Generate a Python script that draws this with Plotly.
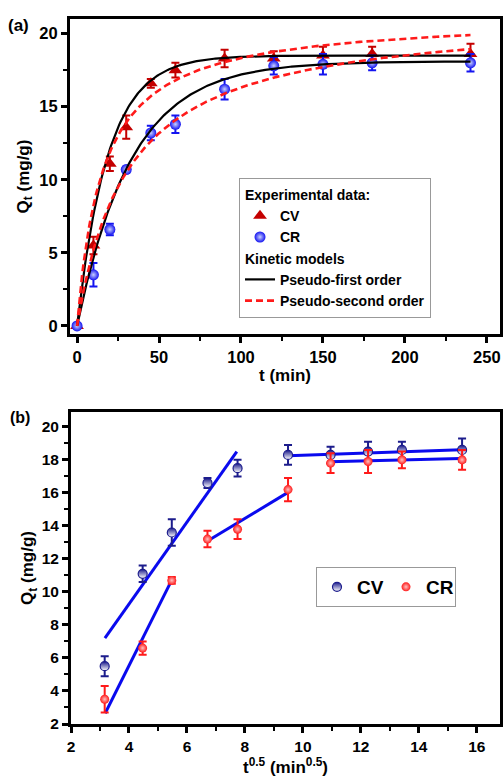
import numpy as np
import plotly.graph_objects as go

# ---------------- data ----------------
t_min = [0, 10, 20, 30, 45, 60, 90, 120, 150, 180, 240]
q_cv = [0, 5.5, 11.1, 13.6, 16.6, 17.5, 18.3, 18.3, 18.5, 18.6, 18.6]
q_cr = [0, 3.5, 6.6, 10.7, 13.2, 13.8, 16.2, 17.8, 17.9, 18.0, 18.0]
err_cv = [0, 0.6, 0.5, 0.8, 0.3, 0.5, 0.6, 0.5, 0.6, 0.5, 0.7]
err_cr = [0, 0.8, 0.4, 0.2, 0.5, 0.6, 0.7, 0.6, 0.7, 0.5, 0.6]

# kinetic model parameters (qe, k)
pfo_cv = (18.5, 0.053)
pfo_cr = (18.1, 0.030)
pso_cv = (21.2, 0.00301)
pso_cr = (21.4, 0.0015)

# intraparticle diffusion segments: (x0, x1), (y0, y1)
ipd_cv_1 = ([3.17, 7.72], [7.2, 18.5])
ipd_cv_2 = ([9.49, 15.45], [18.25, 18.62])
ipd_cr_1 = ([3.18, 5.47], [2.65, 10.7])
ipd_cr_2 = ([6.68, 9.46], [13.05, 16.0])
ipd_cr_3 = ([10.9, 15.45], [17.88, 18.08])

xticks_a = [0, 50, 100, 150, 200, 250]
yticks_a = [0, 5, 10, 15, 20]
xticks_b = [2, 4, 6, 8, 10, 12, 14, 16]
yticks_b = [2, 4, 6, 8, 10, 12, 14, 16, 18, 20]

# --------------------------------------
tt = np.linspace(0, 240, 300)
def pfo(p):
    qe, k = p
    return qe * (1 - np.exp(-k * tt))
def pso(p):
    qe, k = p
    return qe * qe * k * tt / (1 + qe * k * tt)

FONT = "Liberation Sans, Arial, sans-serif"
DARKRED = "#c40000"
BLUE = "#1414f0"
NAVY = "#1c1c8c"
RED = "#ff1a1a"
FIT = "#0a0aee"
LEGFS = 14

fig = go.Figure()

# panel (a) data
fig.add_trace(go.Scatter(
    x=t_min, y=q_cv, mode="markers", name="CV", legendgroup="exp",
    legendgrouptitle=dict(text="Experimental data:", font=dict(family=FONT, size=LEGFS, color="black", weight="bold")),
    marker=dict(symbol="triangle-up", size=12, color=DARKRED),
    error_y=dict(type="data", array=err_cv, color=DARKRED, thickness=2, width=4),
    xaxis="x", yaxis="y", legend="legend"))
fig.add_trace(go.Scatter(
    x=t_min, y=q_cr, mode="markers", name="CR", legendgroup="exp",
    marker=dict(symbol="circle", size=11, color=BLUE, gradient=dict(type="radial", color="#c8d0ff")),
    error_y=dict(type="data", array=err_cr, color=BLUE, thickness=2, width=4),
    xaxis="x", yaxis="y", legend="legend"))

# models
fig.add_trace(go.Scatter(x=tt, y=pfo(pfo_cv), mode="lines", name="Pseudo-first order",
    legendgroup="kin",
    legendgrouptitle=dict(text="Kinetic models", font=dict(family=FONT, size=LEGFS, color="black", weight="bold")),
    line=dict(color="black", width=2.2), xaxis="x", yaxis="y", legend="legend"))
fig.add_trace(go.Scatter(x=tt, y=pso(pso_cv), mode="lines", name="Pseudo-second order",
    legendgroup="kin", line=dict(color="#ff1a1a", width=2.6, dash="7px,4px"),
    xaxis="x", yaxis="y", legend="legend"))
fig.add_trace(go.Scatter(x=tt, y=pfo(pfo_cr), mode="lines", showlegend=False, legendgroup="kin",
    line=dict(color="black", width=2.2), xaxis="x", yaxis="y"))
fig.add_trace(go.Scatter(x=tt, y=pso(pso_cr), mode="lines", showlegend=False, legendgroup="kin",
    line=dict(color="#ff1a1a", width=2.6, dash="7px,4px"), xaxis="x", yaxis="y"))

# panel (b)
sx = [np.sqrt(v) for v in t_min[1:]]
for seg in [ipd_cv_1, ipd_cv_2, ipd_cr_1, ipd_cr_2, ipd_cr_3]:
    fig.add_trace(go.Scatter(x=seg[0], y=seg[1], mode="lines", showlegend=False,
        line=dict(color=FIT, width=3), xaxis="x2", yaxis="y2"))
fig.add_trace(go.Scatter(
    x=sx, y=q_cv[1:], mode="markers", name="CV",
    marker=dict(symbol="circle", size=9, color=NAVY, gradient=dict(type="vertical", color="white"),
                line=dict(color=NAVY, width=1.2)),
    error_y=dict(type="data", array=err_cv[1:], color=NAVY, thickness=2, width=4),
    xaxis="x2", yaxis="y2", legend="legend2"))
fig.add_trace(go.Scatter(
    x=sx, y=q_cr[1:], mode="markers", name="CR",
    marker=dict(symbol="circle", size=9, color=RED, gradient=dict(type="radial", color="#ffc0c0")),
    error_y=dict(type="data", array=err_cr[1:], color=RED, thickness=2, width=4),
    xaxis="x2", yaxis="y2", legend="legend2"))

W, H = 503, 781
def ax(domain, rng, tickvals, dtick_minor, title, anchor, tfs=16.5, standoff=6):
    return dict(domain=domain, range=rng, tickvals=tickvals, anchor=anchor,
                showline=True, linecolor="black", linewidth=3, mirror=True,
                ticks="outside", ticklen=6, tickwidth=2.5, tickcolor="black",
                minor=dict(ticks="outside", ticklen=4, tickwidth=2, tickcolor="black", dtick=dtick_minor),
                showgrid=False, zeroline=False, automargin=False,
                tickfont=dict(family=FONT, size=tfs, color="black", weight="bold"),
                title=dict(text=title, font=dict(family=FONT, size=17, color="black", weight="bold"), standoff=standoff))

xd = [70 / W, 500 / W]
layout = dict(
    width=W, height=H, margin=dict(l=0, r=0, t=0, b=0),
    paper_bgcolor="white", plot_bgcolor="white",
    xaxis=ax(xd, [-4.3, 258], xticks_a, 25, "t (min)", "y", standoff=4),
    yaxis=ax([(H - 334) / H, (H - 19) / H], [-0.55, 21], yticks_a, 2.5, "Q<sub>t</sub> (mg/g)", "x", standoff=6),
    xaxis2=ax([71 / W, 500 / W], [2, 16.8], xticks_b, 1, "t<sup>0.5</sup> (min<sup>0.5</sup>)", "y2", 15.5, 4),
    yaxis2=ax([(H - 724) / H, (H - 412) / H], [2, 20.9], yticks_b, 1, "Q<sub>t</sub> (mg/g)", "x2", 15.5, 4),
    legend=dict(x=239 / W, y=(H - 178) / H, xanchor="left", yanchor="top",
                bgcolor="white", bordercolor="#999999", borderwidth=1,
                font=dict(family=FONT, size=LEGFS, color="black", weight="bold"),
                tracegroupgap=0, itemwidth=30, traceorder="grouped"),
    legend2=dict(x=316 / W, y=(H - 567) / H, xanchor="left", yanchor="top", orientation="h",
                 bgcolor="white", bordercolor="#999999", borderwidth=1,
                 font=dict(family=FONT, size=19, color="black", weight="bold"), itemwidth=30,
                 entrywidth=24, entrywidthmode="pixels"),
    annotations=[
        dict(text="(a)", x=6 / W, y=(H - 25) / H, xref="paper", yref="paper", showarrow=False,
             xanchor="left", yanchor="middle", font=dict(family=FONT, size=17, color="black", weight="bold")),
        dict(text="(b)", x=8 / W, y=(H - 418) / H, xref="paper", yref="paper", showarrow=False,
             xanchor="left", yanchor="middle", font=dict(family=FONT, size=16, color="black", weight="bold")),
    ],
)
fig.update_layout(**layout)
fig.write_html("out.html", config={"displayModeBar": False},
               post_script="document.body.style.margin='0px';document.body.style.overflow='hidden';")
